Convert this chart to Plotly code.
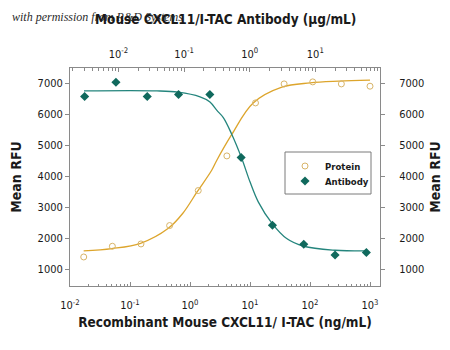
import plotly.graph_objects as go

# ---------------- data ----------------
protein_conc = [0.01694, 0.05081, 0.1524, 0.4572, 1.372, 4.115, 12.35, 37.04, 111.1, 333.3, 1000]
protein_rfu = [1406, 1752, 1826, 2419, 3548, 4665, 6374, 6987, 7052, 6987, 6913]

antibody_conc = [0.003048, 0.009145, 0.02743, 0.0823, 0.2469, 0.7407, 2.222, 6.667, 20, 60]
antibody_rfu = [6580, 7042, 6580, 6645, 6645, 4613, 2429, 1816, 1471, 1548]

# fitted curves
protein_fit_conc = [0.0169, 0.05, 0.15, 0.43, 0.76, 1.31, 2.3, 2.8, 5.0, 11.2, 34, 100, 300, 1000]
protein_fit_rfu = [1600, 1677, 1848, 2323, 2816, 3503, 4203, 4526, 5365, 6365, 6881, 7019, 7074, 7106]

antibody_fit_conc = [0.00298, 0.0386, 0.0817, 0.175, 0.248, 0.314, 0.396, 0.532, 0.755, 1.01, 1.35, 2.19, 3.66, 6.65, 19.95, 59.8]
antibody_fit_rfu = [6761, 6761, 6719, 6568, 6406, 6139, 5900, 5365, 4590, 3829, 3184, 2490, 2000, 1752, 1623, 1600]

bottom_tickvals = [0.01, 0.1, 1, 10, 100, 1000]
bottom_ticktext = ["10<sup>-2</sup>", "10<sup>-1</sup>", "10<sup>0</sup>", "10<sup>1</sup>", "10<sup>2</sup>", "10<sup>3</sup>"]
top_tickvals = [0.01, 0.1, 1, 10]
top_ticktext = ["10<sup>-2</sup>", "10<sup>-1</sup>", "10<sup>0</sup>", "10<sup>1</sup>"]
y_tickvals = [1000, 2000, 3000, 4000, 5000, 6000, 7000]

# ---------------- style ----------------
FONT = "DejaVu Sans Condensed, Liberation Sans Narrow, sans-serif"
GOLD_LINE = "#dda52c"
GOLD_MARK = "#d8b468"
TEAL_LINE = "#24857d"
TEAL_MARK = "#10695d"
AXIS = "#8a8a8a"
TXT = "#1a1a1a"

fig = go.Figure()

fig.add_trace(go.Scatter(x=protein_fit_conc, y=protein_fit_rfu, mode="lines",
                         line=dict(color=GOLD_LINE, width=1.3, shape="spline", smoothing=1.0),
                         showlegend=False, hoverinfo="skip", xaxis="x", yaxis="y"))
fig.add_trace(go.Scatter(x=antibody_fit_conc, y=antibody_fit_rfu, mode="lines",
                         line=dict(color=TEAL_LINE, width=1.3, shape="spline", smoothing=1.0),
                         showlegend=False, hoverinfo="skip", xaxis="x2", yaxis="y2"))
fig.add_trace(go.Scatter(x=protein_conc, y=protein_rfu, mode="markers", name="Protein",
                         marker=dict(symbol="circle-open", size=6, color=GOLD_MARK, line=dict(width=1)),
                         xaxis="x", yaxis="y", legend="legend"))
fig.add_trace(go.Scatter(x=antibody_conc, y=antibody_rfu, mode="markers", name="Antibody",
                         marker=dict(symbol="diamond", size=7, color=TEAL_MARK),
                         xaxis="x2", yaxis="y2", legend="legend2"))

L, R, T, B = 70, 70, 68, 64
W, H = 450, 350
pw, ph = W - L - R, H - T - B


def px_x(px):
    return (px - L) / pw


def px_y(py):
    return (H - B - py) / ph


tickfont = dict(family=FONT, size=11, color=TXT)
titlefont = dict(family=FONT, size=14, color=TXT, weight="bold")
xtitlefont = dict(family=FONT, size=13.5, color=TXT, weight="bold")
legfont = dict(family=FONT, size=9.5, color=TXT, weight="bold")

fig.update_layout(
    width=W, height=H,
    margin=dict(l=L, r=R, t=T, b=B, autoexpand=False),
    paper_bgcolor="white", plot_bgcolor="white",
    xaxis=dict(type="log", range=[-2, 3.1667], showgrid=False, zeroline=False, automargin=False,
               showline=True, linecolor=AXIS, linewidth=1,
               ticks="inside", ticklen=4, tickcolor=AXIS, ticklabelstandoff=9,
               tickvals=bottom_tickvals, ticktext=bottom_ticktext, tickfont=tickfont,
               minor=dict(ticks="inside", ticklen=2.5, tickcolor=AXIS, dtick="D1", showgrid=False),
               title=dict(text="Recombinant Mouse CXCL11/ I-TAC (ng/mL)", font=xtitlefont, standoff=6),
               anchor="y"),
    xaxis2=dict(type="log", range=[-2.739, 1.986], overlaying="x", side="top", anchor="y2",
                showgrid=False, zeroline=False, automargin=False,
                showline=True, linecolor=AXIS, linewidth=1,
                ticks="inside", ticklen=4, tickcolor=AXIS, ticklabelstandoff=5,
                tickvals=top_tickvals, ticktext=top_ticktext, tickfont=tickfont,
                minor=dict(ticks="inside", ticklen=2.5, tickcolor=AXIS, dtick="D1", showgrid=False)),
    yaxis=dict(range=[470, 7500], showgrid=False, zeroline=False, automargin=False,
               showline=True, linecolor=AXIS, linewidth=1,
               ticks="outside", ticklen=4, tickcolor=AXIS,
               tickvals=y_tickvals, tickfont=tickfont,
               title=dict(text="Mean RFU", font=titlefont, standoff=12), anchor="x"),
    yaxis2=dict(range=[470, 7500], overlaying="y", side="right", anchor="x2",
                showgrid=False, zeroline=False, automargin=False,
                showline=True, linecolor=AXIS, linewidth=1,
                ticks="outside", ticklen=4, tickcolor=AXIS,
                tickvals=y_tickvals, tickfont=tickfont, ticklabelstandoff=12,
                title=dict(text="Mean RFU", font=titlefont, standoff=6)),
    legend=dict(x=px_x(285), y=px_y(166), xanchor="left", yanchor="middle",
                bgcolor="rgba(0,0,0,0)", borderwidth=0, font=legfont),
    legend2=dict(x=px_x(285), y=px_y(181), xanchor="left", yanchor="middle",
                 bgcolor="rgba(0,0,0,0)", borderwidth=0, font=legfont),
    shapes=[dict(type="rect", xref="paper", yref="paper",
                 x0=px_x(285), x1=px_x(371), y0=px_y(194), y1=px_y(152),
                 line=dict(color="#7a7a7a", width=1), layer="above")],
    annotations=[
        dict(text="<i>with permission from R&amp;D Systems</i>", xref="paper", yref="paper",
             x=px_x(10), y=px_y(17), xanchor="left", yanchor="middle", showarrow=False,
             font=dict(family="Liberation Serif, DejaVu Serif, serif", size=12, color="#2a2a2a")),
        dict(text="Mouse CXCL11/I-TAC Antibody (μg/mL)", xref="paper", yref="paper",
             x=px_x(225), y=px_y(19), xanchor="center", yanchor="middle", showarrow=False,
             font=xtitlefont),
    ],
)

fig.write_html("out.html")
